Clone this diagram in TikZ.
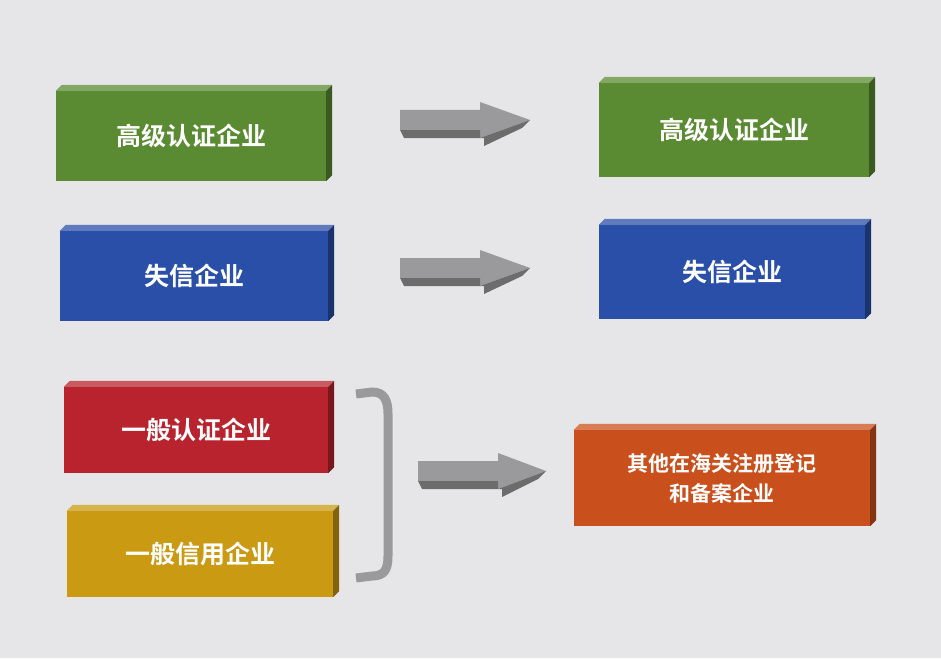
\documentclass[tikz,border=0pt]{standalone}
\usepackage{fontspec}
\newfontfamily\cjk{Noto Sans CJK SC}[BoldFont={Noto Sans CJK SC Bold}]
\definecolor{bg}{HTML}{E6E6E8}
\definecolor{cgreen}{HTML}{5A8A32}
\definecolor{cblue}{HTML}{2A4FA8}
\definecolor{cred}{HTML}{B8232E}
\definecolor{cyel}{HTML}{C99A12}
\definecolor{corg}{HTML}{C9501C}
\definecolor{agray}{HTML}{9A9A9C}
\begin{document}
\begin{tikzpicture}[x=1pt,y=-1pt,
  box/.style={draw=none,inner sep=0pt,text=white,font=\cjk\bfseries\fontsize{25}{30}\selectfont,align=center},
  topf/.style={fill=#1!75!white},
  sidef/.style={fill=#1!65!black},
  garrow/.style={fill=agray,draw=none}]
\fill[bg] (0,0) rectangle (941,658);
\useasboundingbox (0,0) rectangle (941,658);
\newcommand\mkbox[6]{% name, x, y, w, h, color ; text via #6
  \node[box,fill=#6,minimum width=#4,minimum height=#5] (#1) at (#2,#3) {};
  \fill[topf=#6] (#1.north west) -- ++(6,-6) -- ([shift={(6,-6)}]#1.north east) -- (#1.north east) -- cycle;
  \fill[sidef=#6] (#1.north east) -- ++(6,-6) -- ([shift={(6,-6)}]#1.south east) -- (#1.south east) -- cycle;}
\mkbox{g1}{191}{136}{270}{90}{cgreen}
\node[box] at (g1) {高级认证企业};
\mkbox{b1}{194}{276}{268}{90}{cblue}
\node[box] at (b1) {失信企业};
\mkbox{r1}{196}{430}{264}{86}{cred}
\node[box] at (r1) {一般认证企业};
\mkbox{y1}{200}{554}{266}{86}{cyel}
\node[box] at (y1) {一般信用企业};
\mkbox{g2}{734}{130}{270}{94}{cgreen}
\node[box] at (g2) {高级认证企业};
\mkbox{b2}{732}{272}{266}{94}{cblue}
\node[box] at (b2) {失信企业};
\mkbox{o2}{722}{478}{296}{96}{corg}
\node[box,font=\cjk\bfseries\fontsize{21}{30}\selectfont] at (o2) {其他在海关注册登记\\和备案企业};
% arrows
\newcommand\garr[3]{\fill[garrow] (#1,#2+8) -- (#1+80,#2+8) -- (#1+80,#2) -- (#1+#3,#2+18) -- (#1+80,#2+36) -- (#1+80,#2+28) -- (#1,#2+28) -- cycle;
 \fill[agray!70!black] (#1,#2+28) -- (#1+80,#2+28) -- (#1+80,#2+36) -- (#1+#3,#2+18) -- (#1+#3-8,#2+26) -- (#1+84,#2+44) -- (#1+84,#2+36) -- (#1+4,#2+36) -- cycle;}
\garr{400}{102}{130}
\garr{400}{250}{130}
\garr{418}{453}{128}
% bracket
\coordinate (bt) at (356,394);
\coordinate (bb) at (356,578);
\draw[agray,line width=9pt,line cap=butt] (bt) -- (372,392) .. controls (384,392) and (388,400) .. (388,414) -- (388,556) .. controls (388,570) and (384,576) .. (372,576) -- (bb);
\end{tikzpicture}
\end{document}
